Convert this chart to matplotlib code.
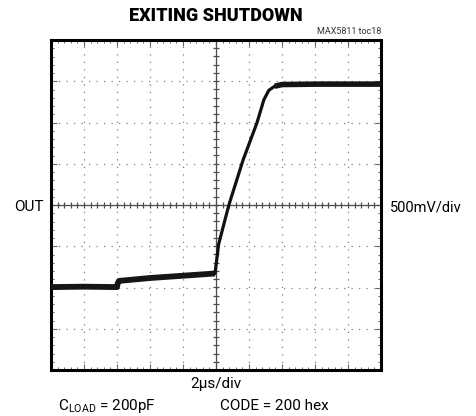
import numpy as np
import matplotlib.pyplot as plt
from matplotlib.ticker import MultipleLocator

# scope trace, in divisions (x: 0..10, y: -4..4)
t_div = [0.0, 1.0, 2.0, 2.02, 2.06, 3.0, 3.9, 4.97, 5.08, 5.39, 5.82,
         6.24, 6.45, 6.60, 6.78, 7.0, 8.0, 9.0, 10.0]
out_div = [-1.99, -1.98, -1.99, -1.90, -1.84, -1.77, -1.72, -1.66, -0.95, 0.0, 1.09,
           1.99, 2.55, 2.78, 2.88, 2.92, 2.93, 2.93, 2.93]

title = "EXITING SHUTDOWN"
toc = "MAX5811 toc18"
y_label = "OUT"
y_scale = "500mV/div"
x_scale = "2\u03bcs/div"
note_left = "C$_{\\mathregular{LOAD}}$ = 200pF"
note_right = "CODE = 200 hex"

plt.rcParams['font.family'] = ['Roboto', 'DejaVu Sans']

fig = plt.figure(figsize=(4.76, 4.16), dpi=100)
ax = fig.add_axes([51 / 476, 46 / 416, 330 / 476, 330 / 416])

ax.set_xlim(0, 10)
ax.set_ylim(-4, 4)

# dotted graticule
ax.xaxis.set_major_locator(MultipleLocator(1))
ax.yaxis.set_major_locator(MultipleLocator(1))
ax.xaxis.set_minor_locator(MultipleLocator(0.2))
ax.yaxis.set_minor_locator(MultipleLocator(0.2))
ax.grid(True, which='major', color='0.5', linestyle=(0, (1, 5)), linewidth=0.9)
ax.tick_params(which='both', direction='in', top=True, right=True,
               labelbottom=False, labelleft=False, color='0.4')
ax.tick_params(which='major', length=4, width=0.8)
ax.tick_params(which='minor', length=2.5, width=0.7)

# center cross with small tick marks
ax.axhline(0, color='0.3', lw=0.9)
ax.axvline(5, color='0.3', lw=0.9)
minor_x = np.arange(0, 10.01, 0.2)
minor_y = np.arange(-4, 4.01, 0.2)
ax.plot(minor_x, np.zeros_like(minor_x), ls='none', marker='|', ms=5, mew=0.9, color='0.3')
ax.plot(np.full_like(minor_y, 5), minor_y, ls='none', marker='_', ms=5, mew=0.9, color='0.3')

# trace: thin on the edge, thicker (noisy) on the flat parts
ax.plot(t_div, out_div, color='#111111', lw=2.3, solid_capstyle='butt', zorder=5)
ax.plot(t_div[:8], out_div[:8], color='#151515', lw=4.2, solid_capstyle='butt', zorder=5)
ax.plot(t_div[14:], out_div[14:], color='#151515', lw=4.0, solid_capstyle='butt', zorder=5)

for s in ax.spines.values():
    s.set_linewidth(2.2)
    s.set_color('black')

fig.text(216 / 476, 1 - 16 / 416, title, ha='center', va='center',
         fontsize=13, fontweight='heavy')
fig.text(381 / 476, 1 - 32 / 416, toc, ha='right', va='center', fontsize=6.5, color='0.2')
fig.text(44 / 476, 1 - 207 / 416, y_label, ha='right', va='center', fontsize=11)
fig.text(390 / 476, 1 - 207 / 416, y_scale, ha='left', va='center', fontsize=10.5)
fig.text(216 / 476, 1 - 384 / 416, x_scale, ha='center', va='center', fontsize=11)
fig.text(58 / 476, 1 - 406 / 416, note_left, ha='left', va='center', fontsize=11)
fig.text(220 / 476, 1 - 406 / 416, note_right, ha='left', va='center', fontsize=11)

fig.savefig("out.png", dpi=100)
